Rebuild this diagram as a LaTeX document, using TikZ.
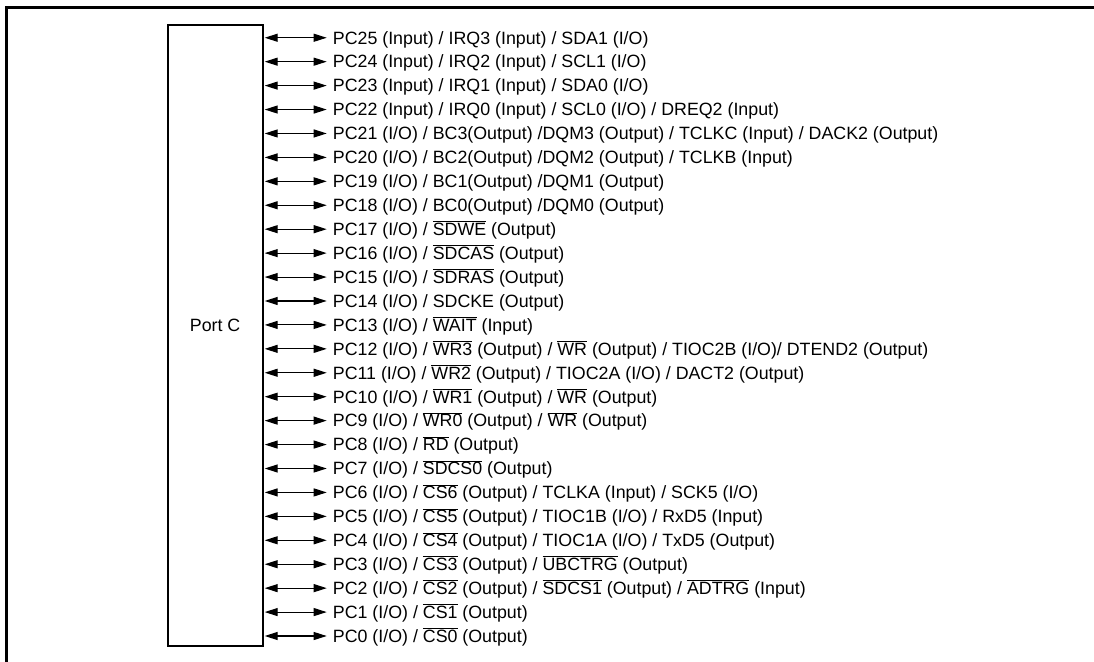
\documentclass[tikz,border=0pt]{standalone}
\usepackage{fontspec}
\setmainfont{Liberation Sans}
\usetikzlibrary{arrows.meta}
\newcommand\ovl[1]{$\overline{\hbox{#1}}$}
\tikzset{
  frameline/.style={line width=2.5pt},
  portbox/.style={draw, line width=2pt, minimum width=95.2pt, minimum height=620.7pt, inner sep=0pt},
  sig/.style={anchor=base west, inner sep=0pt, font=\fontsize{17.8}{20}\selectfont},
  bidir/.style={line width=1.1pt, {Triangle[length=13pt,width=8pt]}-{Triangle[length=13pt,width=8pt]}},
}
\begin{document}
\begin{tikzpicture}[x=1pt,y=-1pt]
\useasboundingbox (0,0) rectangle (1094,661);
\draw[frameline] (1095,7.5) -- (6.5,7.5) -- (6.5,662);
\node[portbox] (port) at (215.1,335.35) {};
\def\rowy#1{636-#1*23.93+6.3}
\node[sig] (t25) at (332.7,{\rowy{25}}) {PC25 (Input) / IRQ3 (Input) / SDA1 (I/O)};
\node[sig] (t24) at (332.7,{\rowy{24}}) {PC24 (Input) / IRQ2 (Input) / SCL1 (I/O)};
\node[sig] (t23) at (332.7,{\rowy{23}}) {PC23 (Input) / IRQ1 (Input) / SDA0 (I/O)};
\node[sig] (t22) at (332.7,{\rowy{22}}) {PC22 (Input) / IRQ0 (Input) / SCL0 (I/O) / DREQ2 (Input)};
\node[sig] (t21) at (332.7,{\rowy{21}}) {PC21 (I/O) / BC3(Output) /DQM3 (Output) / TCLKC (Input) / DACK2 (Output)};
\node[sig] (t20) at (332.7,{\rowy{20}}) {PC20 (I/O) / BC2(Output) /DQM2 (Output) / TCLKB (Input)};
\node[sig] (t19) at (332.7,{\rowy{19}}) {PC19 (I/O) / BC1(Output) /DQM1 (Output)};
\node[sig] (t18) at (332.7,{\rowy{18}}) {PC18 (I/O) / BC0(Output) /DQM0 (Output)};
\node[sig] (t17) at (332.7,{\rowy{17}}) {PC17 (I/O) / \ovl{SDWE} (Output)};
\node[sig] (t16) at (332.7,{\rowy{16}}) {PC16 (I/O) / \ovl{SDCAS} (Output)};
\node[sig] (t15) at (332.7,{\rowy{15}}) {PC15 (I/O) / \ovl{SDRAS} (Output)};
\node[sig] (t14) at (332.7,{\rowy{14}}) {PC14 (I/O) / SDCKE (Output)};
\node[sig] (t13) at (332.7,{\rowy{13}}) {PC13 (I/O) / \ovl{WAIT} (Input)};
\node[sig] (t12) at (332.7,{\rowy{12}}) {PC12 (I/O) / \ovl{WR3} (Output) / \ovl{WR} (Output) / TIOC2B (I/O)/ DTEND2 (Output)};
\node[sig] (t11) at (332.7,{\rowy{11}}) {PC11 (I/O) / \ovl{WR2} (Output) / TIOC2A (I/O) / DACT2 (Output)};
\node[sig] (t10) at (332.7,{\rowy{10}}) {PC10 (I/O) / \ovl{WR1} (Output) / \ovl{WR} (Output)};
\node[sig] (t9) at (332.7,{\rowy{9}}) {PC9 (I/O) / \ovl{WR0} (Output) / \ovl{WR} (Output)};
\node[sig] (t8) at (332.7,{\rowy{8}}) {PC8 (I/O) / \ovl{RD} (Output)};
\node[sig] (t7) at (332.7,{\rowy{7}}) {PC7 (I/O) / \ovl{SDCS0} (Output)};
\node[sig] (t6) at (332.7,{\rowy{6}}) {PC6 (I/O) / \ovl{CS6} (Output) / TCLKA (Input) / SCK5 (I/O)};
\node[sig] (t5) at (332.7,{\rowy{5}}) {PC5 (I/O) / \ovl{CS5} (Output) / TIOC1B (I/O) / RxD5 (Input)};
\node[sig] (t4) at (332.7,{\rowy{4}}) {PC4 (I/O) / \ovl{CS4} (Output) / TIOC1A (I/O) / TxD5 (Output)};
\node[sig] (t3) at (332.7,{\rowy{3}}) {PC3 (I/O) / \ovl{CS3} (Output) / \ovl{UBCTRG} (Output)};
\node[sig] (t2) at (332.7,{\rowy{2}}) {PC2 (I/O) / \ovl{CS2} (Output) / \ovl{SDCS1} (Output) / \ovl{ADTRG} (Input)};
\node[sig] (t1) at (332.7,{\rowy{1}}) {PC1 (I/O) / \ovl{CS1} (Output)};
\node[sig] (t0) at (332.7,{\rowy{0}}) {PC0 (I/O) / \ovl{CS0} (Output)};
\node[sig, anchor=base] (lbl) at (215.1,{\rowy{13}}) {Port C};
\foreach \i in {0,...,25}{
  \coordinate (e\i) at ([xshift=-6pt,yshift=6.3pt]t\i.base west);
  \draw[bidir] ([xshift=1pt]port.east |- e\i) -- (e\i);
}
\end{tikzpicture}
\end{document}
